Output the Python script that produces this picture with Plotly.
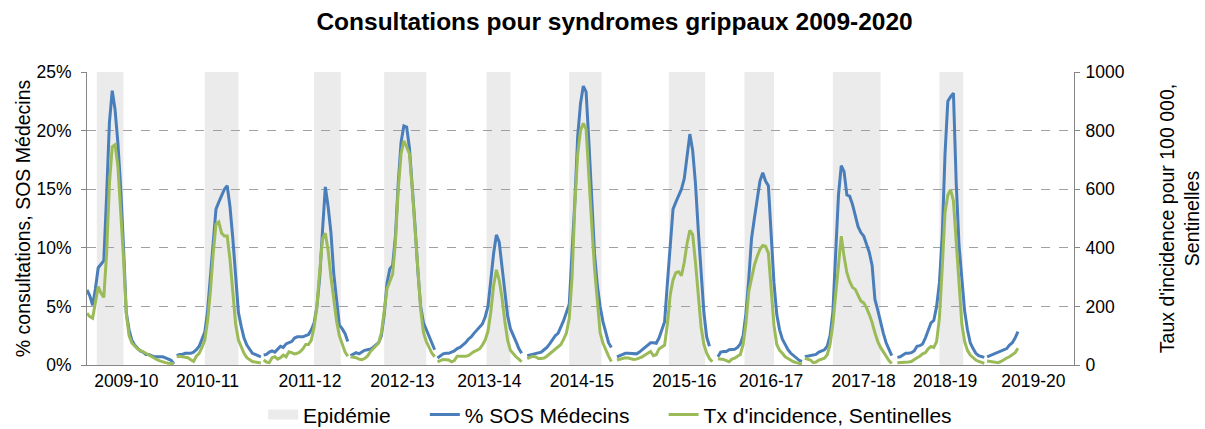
import plotly.graph_objects as go

# ---------------- data ----------------
seasons = ["2009-10", "2010-11", "2011-12", "2012-13", "2013-14", "2014-15",
           "2015-16", "2016-17", "2017-18", "2018-19", "2019-20"]
# first week slot of each season on the (weekly) x axis
season_start = [0, 32, 63, 94, 125, 157, 189, 225, 256, 289, 321]
# label position of each season on the x axis (week slots)
tick_pos = [14, 43, 79.5, 112.5, 143.5, 176.5, 213, 244, 277, 306, 337.5]

# epidemic periods (week slots)
epi_start = [3.5, 42, 81, 106, 142.5, 172, 207.5, 234.5, 266, 304]
epi_end = [13, 54, 90.5, 121, 151, 183.5, 220.5, 245, 283, 312.5]

# % consultations SOS Médecins (weekly)
sos_2009_10 = [6.4, 5.9, 5.1, 6.5, 8.3, 8.6, 8.9, 14.5, 20.7, 23.4, 21.8, 19.0, 15.2, 10.2, 4.5, 3.0,
               2.1, 1.7, 1.4, 1.2, 1.1, 0.9, 0.9, 0.8, 0.7, 0.7, 0.7, 0.7, 0.6, 0.5, 0.4, 0.1]
sos_2010_11 = [0.8, 0.9, 0.9, 1.0, 1.0, 1.0, 1.1, 1.3, 1.6, 2.2, 2.8, 4.6, 7.5, 10.5, 13.3, 13.9,
               14.5, 15.0, 15.3, 13.5, 10.8, 7.3, 4.5, 3.3, 2.3, 1.7, 1.3, 1.0, 0.9, 0.8, 0.7]
sos_2011_12 = [0.85, 0.9, 1.1, 1.2, 1.1, 1.4, 1.6, 1.5, 1.8, 1.9, 2.0, 2.3, 2.4, 2.4, 2.4, 2.5,
               2.6, 3.0, 3.6, 5.0, 7.5, 11.5, 15.2, 13.5, 11.3, 7.8, 5.8, 3.4, 3.1, 2.7, 2.0]
sos_2012_13 = [0.8, 0.9, 1.05, 0.95, 1.1, 1.25, 1.3, 1.35, 1.5, 1.7, 1.9, 2.5, 4.3, 7.0, 8.2, 8.5,
               11.0, 15.5, 19.0, 20.4, 20.3, 18.5, 15.5, 11.8, 8.0, 5.0, 3.6, 3.0, 2.5, 1.8, 1.3]
sos_2013_14 = [0.6, 0.8, 0.95, 1.0, 1.0, 1.1, 1.2, 1.4, 1.5, 1.7, 1.9, 2.2, 2.4, 2.7, 3.0, 3.3,
               3.5, 4.1, 5.0, 7.2, 9.5, 11.1, 10.5, 8.4, 6.0, 4.2, 3.1, 2.6, 2.0, 1.4, 1.0]
sos_2014_15 = [0.8, 0.85, 0.9, 0.95, 1.0, 1.1, 1.3, 1.5, 1.8, 2.2, 2.5, 2.7, 3.2, 3.8, 4.5, 5.2,
               9.7, 14.0, 19.5, 22.3, 23.8, 23.3, 19.0, 13.8, 9.5, 6.8, 5.0, 3.7, 2.8, 1.9, 1.5]
sos_2015_16 = [0.7, 0.8, 0.9, 1.0, 1.0, 1.0, 0.95, 0.95, 1.1, 1.3, 1.5, 1.7, 1.9, 1.9, 1.85, 2.3,
               3.0, 3.7, 7.0, 10.5, 13.3, 13.9, 14.4, 15.0, 15.9, 17.8, 19.7, 18.3, 15.5, 11.5, 7.5,
               4.5, 2.4, 1.6]
sos_2016_17 = [0.7, 1.1, 1.15, 1.15, 1.3, 1.3, 1.35, 1.5, 1.8, 2.5, 4.4, 7.3, 10.8, 12.5, 14.0, 15.7,
               16.4, 15.7, 15.3, 11.5, 7.0, 4.3, 3.0, 2.2, 1.7, 1.3, 1.0, 0.8, 0.6, 0.4, 0.3]
sos_2017_18 = [0.7, 0.75, 0.8, 0.85, 0.9, 1.1, 1.2, 1.3, 1.6, 2.5, 4.5, 10.0, 14.5, 17.0, 16.5, 14.5,
               14.4, 13.7, 12.6, 11.8, 11.3, 11.0, 10.3, 9.6, 8.5, 5.6, 4.7, 3.6, 2.7, 1.9, 1.3, 0.8]
sos_2018_19 = [0.65, 0.7, 0.85, 1.0, 1.0, 1.05, 1.2, 1.6, 1.65, 1.8, 2.3, 3.0, 3.6, 3.8, 5.0, 7.0,
               11.0, 18.0, 22.5, 22.9, 23.2, 15.5, 10.2, 7.4, 4.6, 3.0, 1.9, 1.4, 1.0, 0.8, 0.7, 0.65]
sos_2019_20 = [0.7, 0.8, 0.9, 1.0, 1.1, 1.2, 1.3, 1.4, 1.7, 1.9, 2.3, 2.85]

# Taux d'incidence pour 100 000, Sentinelles (weekly)
sen_2009_10 = [177, 165, 160, 220, 268, 245, 231, 382, 620, 745, 752, 680, 530, 370, 175, 100,
               75, 63, 55, 50, 46, 40, 34, 28, 22, 18, 14, 10, 8, 6, 6, 5]
sen_2010_11 = [28, 30, 28, 27, 25, 18, 12, 30, 40, 60, 85, 150, 250, 380, 480, 488,
               450, 440, 440, 360, 250, 140, 85, 60, 40, 25, 18, 12, 10, 8, 7]
sen_2011_12 = [17, 10, 8, 25, 28, 20, 25, 34, 28, 45, 42, 38, 40, 45, 55, 70,
               70, 85, 130, 200, 320, 430, 450, 390, 300, 230, 150, 100, 70, 45, 30]
sen_2012_13 = [28, 26, 25, 20, 18, 22, 30, 45, 55, 65, 75, 110, 180, 260, 285, 310,
               420, 600, 720, 765, 745, 720, 600, 470, 320, 190, 110, 80, 60, 40, 28]
sen_2013_14 = [11, 15, 19, 18, 17, 11, 15, 30, 30, 28, 30, 32, 40, 46, 50, 55,
               68, 85, 115, 180, 270, 325, 290, 230, 150, 85, 50, 38, 28, 20, 11]
sen_2014_15 = [22, 25, 30, 28, 22, 22, 24, 30, 38, 45, 52, 60, 70, 88, 110, 160,
               300, 550, 720, 800, 825, 805, 660, 480, 330, 205, 110, 75, 50, 30, 12]
sen_2015_16 = [17, 20, 23, 25, 24, 22, 19, 20, 23, 28, 34, 40, 46, 32, 35, 55,
               63, 68, 140, 240, 290, 315, 318, 305, 350, 415, 460, 445, 350, 230, 130,
               70, 40, 22, 11]
sen_2016_17 = [21, 20, 19, 15, 11, 20, 23, 30, 36, 70, 142, 250, 300, 340, 370, 395,
               408, 405, 382, 250, 135, 70, 50, 40, 28, 22, 15, 11, 8, 5, 3]
sen_2017_18 = [23, 20, 17, 8, 10, 17, 20, 23, 35, 70, 140, 245, 340, 440, 370, 315,
               285, 265, 258, 240, 218, 212, 195, 172, 145, 110, 80, 60, 45, 30, 15, 5]
sen_2018_19 = [8, 8, 8, 9, 10, 12, 20, 25, 30, 38, 42, 55, 63, 60, 80, 160,
               330, 520, 580, 598, 560, 420, 250, 140, 80, 50, 34, 25, 17, 12, 8, 6]
sen_2019_20 = [14, 12, 11, 10, 8, 12, 19, 24, 28, 34, 42, 57]

sos_all = [sos_2009_10, sos_2010_11, sos_2011_12, sos_2012_13, sos_2013_14, sos_2014_15,
           sos_2015_16, sos_2016_17, sos_2017_18, sos_2018_19, sos_2019_20]
sen_all = [sen_2009_10, sen_2010_11, sen_2011_12, sen_2012_13, sen_2013_14, sen_2014_15,
           sen_2015_16, sen_2016_17, sen_2017_18, sen_2018_19, sen_2019_20]


def build(series_list):
    xs, ys = [], []
    for start, vals in zip(season_start, series_list):
        xs += [start + i for i in range(len(vals))] + [None]
        ys += list(vals) + [None]
    return xs, ys


x_sos, y_sos = build(sos_all)
x_sen, y_sen = build(sen_all)

FONT = "Liberation Sans, Arial, sans-serif"
AXIS_COL = "#868686"
BLUE = "#4a7ebb"
GREEN = "#9bbb59"
EPI = "#ebebeb"
PAD = "\u00a0" * 5   # extra spacing between legend entries

fig = go.Figure()
fig.add_trace(go.Scatter(x=[None], y=[None], mode="lines", name="Epidémie" + PAD,
                         line=dict(color=EPI, width=10), hoverinfo="skip"))
fig.add_trace(go.Scatter(x=x_sos, y=y_sos, mode="lines", name="% SOS Médecins" + PAD,
                         line=dict(color=BLUE, width=3)))
fig.add_trace(go.Scatter(x=x_sen, y=y_sen, mode="lines", name="Tx d'incidence, Sentinelles",
                         yaxis="y2", line=dict(color=GREEN, width=3)))

shapes = [dict(type="rect", xref="x", yref="y", x0=s, x1=e, y0=0, y1=25,
               fillcolor=EPI, line=dict(width=0), layer="below")
          for s, e in zip(epi_start, epi_end)]

fig.update_layout(
    width=1205, height=429,
    margin=dict(l=87, r=131, t=72, b=64, autoexpand=False),
    paper_bgcolor="white", plot_bgcolor="white",
    font=dict(family=FONT, size=17, color="#000000"),
    title=dict(text="Consultations pour syndromes grippaux 2009-2020",
               font=dict(family=FONT, size=24.5, color="#000000", weight="bold"),
               x=0.51, xanchor="center", y=0.95, yanchor="middle"),
    shapes=shapes,
    showlegend=True,
    legend=dict(orientation="h", x=0.53, xanchor="center", y=-0.17, yanchor="middle",
                font=dict(family=FONT, size=21, color="#000000"),
                itemwidth=30, tracegroupgap=0, traceorder="normal"),
    xaxis=dict(range=[0, 352], tickmode="array", tickvals=tick_pos, ticktext=seasons,
               showgrid=False, zeroline=False, showline=True, linecolor=AXIS_COL, linewidth=1,
               ticks="", tickfont=dict(size=17.5), automargin=False, fixedrange=True),
    yaxis=dict(range=[0, 25], dtick=5, ticksuffix="%", showgrid=True, gridcolor="#a0a0a0",
               griddash="dash", gridwidth=1, zeroline=False, showline=True, linecolor=AXIS_COL,
               ticks="outside", ticklen=5, tickcolor=AXIS_COL, ticklabelstandoff=6,
               tickfont=dict(size=17.5), automargin=False,
               title=dict(text="% consultations, SOS Médecins", font=dict(size=19.5), standoff=0)),
    yaxis2=dict(range=[0, 1000], dtick=200, overlaying="y", side="right", showgrid=False,
                zeroline=False, showline=True, linecolor=AXIS_COL, ticks="outside", ticklen=5,
                tickcolor=AXIS_COL, ticklabelstandoff=2, tickfont=dict(size=17.5),
                automargin=False,
                title=dict(text="Taux d'incidence pour 100 000,<br>Sentinelles",
                           font=dict(size=19.5), standoff=36)),
)

fig.write_html("out.html", config={"displayModeBar": False},
               post_script="document.body.style.margin='0px';")
